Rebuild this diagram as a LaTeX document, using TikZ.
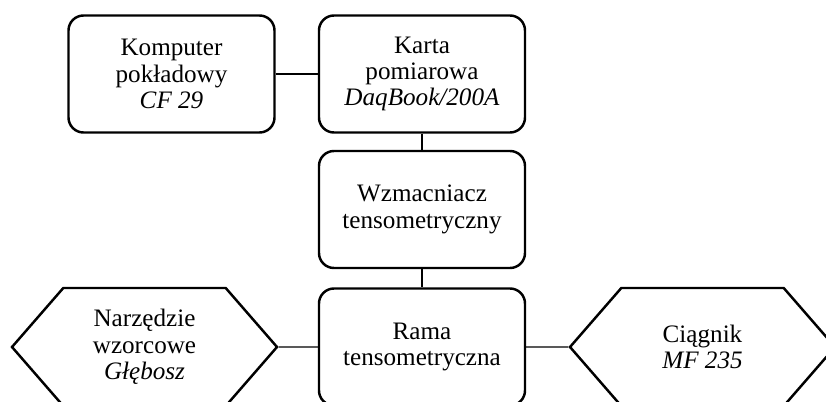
\documentclass[tikz,border=0pt]{standalone}
\usepackage{fontspec}
\setmainfont{Liberation Serif}
\usetikzlibrary{shapes.symbols}

\begin{document}
\begin{tikzpicture}[
        box/.style = {draw, line width = 1.4pt, rounded corners = 0.3cm,
            minimum width = 4.12cm, minimum height = 2.34cm,
            align = center, font = \fontsize{14.3}{15}\selectfont},
        hexbox/.style = {draw, line width = 1.4pt, shape = signal,
            signal to = west and east, signal pointer angle = 98,
            minimum width = 5.3cm, minimum height = 2.36cm, inner sep = 0pt,
            align = center, font = \fontsize{14.3}{15}\selectfont},
        link/.style = {line width = 0.8pt}
    ]
        \useasboundingbox (0, 0) rectangle (16.52, 8.02);

        \node[box] (komputer) at (3.43, 6.54) {Komputer\\pokładowy\\\textit{CF 29}};
        \node[box] (karta) at (8.44, 6.54) {Karta\\pomiarowa\\\textit{DaqBook/200A}};
        \node[box] (wzmacniacz) at (8.44, 3.83) {Wzmacniacz\\tensometryczny};
        \node[box] (rama) at (8.44, 1.08) {Rama\\tensometryczna};

        \node[hexbox] (narzedzie) at (2.89, 1.08) {Narzędzie\\wzorcowe\\\textit{Głębosz}};
        \node[hexbox] (ciagnik) at (14.05, 1.08) {Ciągnik\\\textit{MF 235}};

        \draw[link] (komputer) -- (karta);
        \draw[link] (karta) -- (wzmacniacz);
        \draw[link] (wzmacniacz) -- (rama);
        \draw[link] (narzedzie) -- (rama);
        \draw[link] (rama) -- (ciagnik);
    \end{tikzpicture}
\end{document}
